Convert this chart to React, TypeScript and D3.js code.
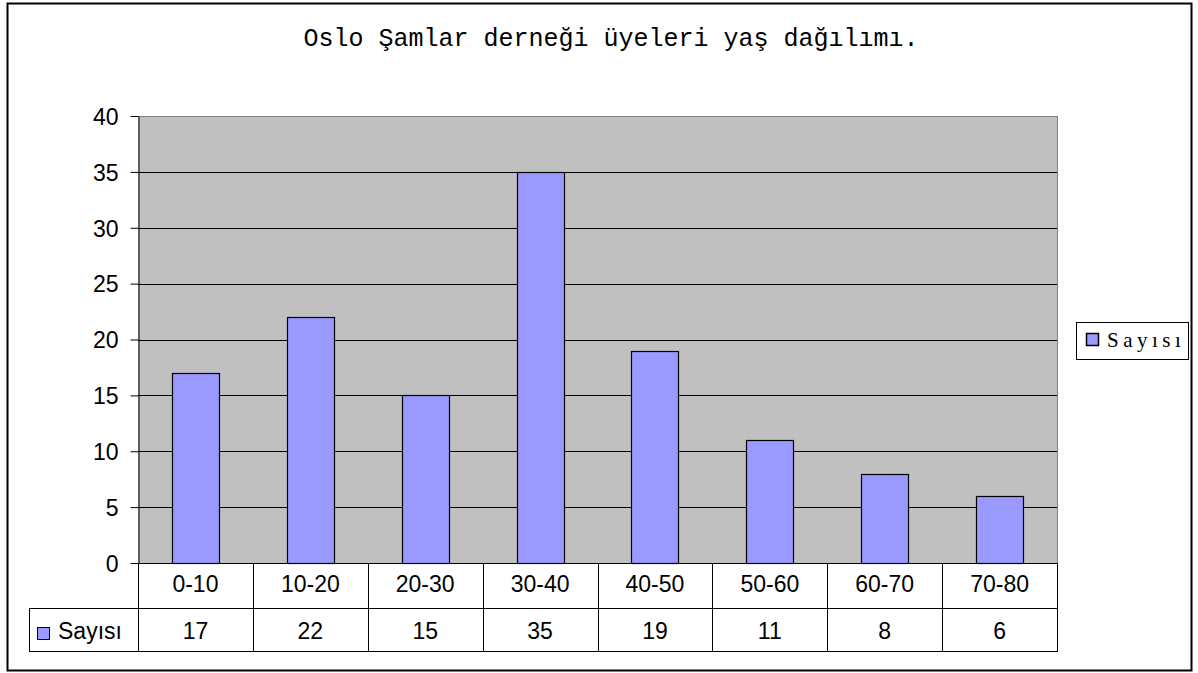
import * as d3 from "d3";
import React from "react";

const categories = ["0-10", "10-20", "20-30", "30-40", "40-50", "50-60", "60-70", "70-80"];
const counts = [17, 22, 15, 35, 19, 11, 8, 6];
const yTicks = [0, 5, 10, 15, 20, 25, 30, 35, 40];
const seriesName = "Sayısı";
const title = "Oslo Şamlar derneği üyeleri yaş dağılımı.";

const sans = "Liberation Sans, Arial, sans-serif";

function App() {
  const svgRef = React.useRef<SVGSVGElement>(null);

  React.useEffect(() => {
    const width = 1198;
    const height = 673;
    const plotLeft = 138;
    const plotRight = 1057;
    const plotTop = 116;
    const plotBottom = 563;
    const catRowH = 45;
    const valRowH = 43;
    const tableLeft = 29;
    const fs = 23;

    const svg = d3.select(svgRef.current);
    svg.selectAll("*").remove();
    svg.attr("width", width).attr("height", height);

    svg.append("rect").attr("width", width).attr("height", height).attr("fill", "#fff");
    svg
      .append("rect")
      .attr("x", 7.5)
      .attr("y", 3.5)
      .attr("width", 1184)
      .attr("height", 667)
      .attr("fill", "none")
      .attr("stroke", "#000")
      .attr("stroke-width", 2);

    const x = d3.scaleBand().domain(categories).range([plotLeft, plotRight]).paddingInner(0).paddingOuter(0);
    const y = d3.scaleLinear().domain([0, 40]).range([plotBottom, plotTop]);

    // plot area
    svg
      .append("rect")
      .attr("x", plotLeft)
      .attr("y", plotTop)
      .attr("width", plotRight - plotLeft)
      .attr("height", plotBottom - plotTop)
      .attr("fill", "#c0c0c0");

    svg
      .append("g")
      .selectAll("line")
      .data(yTicks.filter((t) => t > 0))
      .join("line")
      .attr("x1", plotLeft)
      .attr("x2", plotRight)
      .attr("y1", (d) => Math.round(y(d)) + 0.5)
      .attr("y2", (d) => Math.round(y(d)) + 0.5)
      .attr("stroke", (d) => (d === 40 ? "#808080" : "#000"))
      .attr("stroke-width", 1);

    // right border of plot
    svg
      .append("line")
      .attr("x1", plotRight + 0.5)
      .attr("x2", plotRight + 0.5)
      .attr("y1", plotTop)
      .attr("y2", plotBottom)
      .attr("stroke", "#808080");

    // bars
    const barW = 47;
    svg
      .append("g")
      .selectAll("rect")
      .data(counts)
      .join("rect")
      .attr("x", (_, i) => Math.round(x(categories[i])! + x.bandwidth() / 2 - barW / 2) + 0.5)
      .attr("y", (d) => Math.round(y(d)) + 0.5)
      .attr("width", barW)
      .attr("height", (d) => Math.round(plotBottom - y(d)))
      .attr("fill", "#9999ff")
      .attr("stroke", "#000")
      .attr("stroke-width", 1.2);

    // y axis
    const yAxis = d3.axisLeft(y).tickValues(yTicks).tickSize(8).tickSizeOuter(0);
    svg
      .append("g")
      .attr("transform", `translate(${plotLeft + 0.5},0)`)
      .call(yAxis)
      .call((g: any) => g.select(".domain").attr("stroke", "#000"))
      .call((g: any) =>
        g
          .selectAll("text")
          .attr("font-family", sans)
          .attr("font-size", fs)
          .attr("fill", "#000")
          .attr("x", -20)
          .attr("dy", "0.36em"),
      );

    // data table
    const table = svg.append("g");
    const lineAttr = (sel: any) => sel.attr("stroke", "#000").attr("stroke-width", 1);
    const tableBottom = plotBottom + catRowH + valRowH;
    table.append("line").attr("x1", plotLeft).attr("x2", plotRight + 1).attr("y1", plotBottom + 0.5).attr("y2", plotBottom + 0.5).call(lineAttr);
    table.append("line").attr("x1", tableLeft).attr("x2", plotRight + 1).attr("y1", plotBottom + catRowH + 0.5).attr("y2", plotBottom + catRowH + 0.5).call(lineAttr);
    table.append("line").attr("x1", tableLeft).attr("x2", plotRight + 1).attr("y1", tableBottom + 0.5).attr("y2", tableBottom + 0.5).call(lineAttr);
    table.append("line").attr("x1", tableLeft + 0.5).attr("x2", tableLeft + 0.5).attr("y1", plotBottom + catRowH).attr("y2", tableBottom).call(lineAttr);
    const bounds = [...categories.map((c) => x(c)!), plotRight];
    table
      .selectAll("line.v")
      .data(bounds)
      .join("line")
      .attr("class", "v")
      .attr("x1", (d) => Math.round(d) + 0.5)
      .attr("x2", (d) => Math.round(d) + 0.5)
      .attr("y1", plotBottom)
      .attr("y2", tableBottom)
      .call(lineAttr);

    table
      .selectAll("text.cat")
      .data(categories)
      .join("text")
      .attr("class", "cat")
      .attr("x", (d) => x(d)! + x.bandwidth() / 2)
      .attr("y", plotBottom + 29)
      .attr("text-anchor", "middle")
      .attr("font-family", sans)
      .attr("font-size", fs)
      .text((d) => d);

    table
      .selectAll("text.val")
      .data(counts)
      .join("text")
      .attr("class", "val")
      .attr("x", (_, i) => x(categories[i])! + x.bandwidth() / 2)
      .attr("y", plotBottom + catRowH + 31)
      .attr("text-anchor", "middle")
      .attr("font-family", sans)
      .attr("font-size", fs)
      .text((d) => String(d));

    table
      .append("rect")
      .attr("x", 37.5)
      .attr("y", 627.5)
      .attr("width", 12)
      .attr("height", 12)
      .attr("fill", "#9999ff")
      .attr("stroke", "#000");
    table
      .append("text")
      .attr("x", 58)
      .attr("y", plotBottom + catRowH + 31)
      .attr("font-family", sans)
      .attr("font-size", fs)
      .text(seriesName);

    // legend
    const legend = svg.append("g");
    legend
      .append("rect")
      .attr("x", 1076.5)
      .attr("y", 322.5)
      .attr("width", 112)
      .attr("height", 37)
      .attr("fill", "#fff")
      .attr("stroke", "#000");
    legend
      .append("rect")
      .attr("x", 1086.5)
      .attr("y", 333.5)
      .attr("width", 12)
      .attr("height", 12)
      .attr("fill", "#9999ff")
      .attr("stroke", "#000")
      .attr("stroke-width", 1.5);
    legend
      .append("text")
      .attr("x", 1107)
      .attr("y", 347)
      .attr("font-family", "Liberation Serif, serif")
      .attr("font-size", 21)
      .attr("letter-spacing", 4.5)
      .text(seriesName);

    // title
    svg
      .append("text")
      .attr("x", 611)
      .attr("y", 46)
      .attr("text-anchor", "middle")
      .attr("font-family", "Liberation Mono, Courier New, monospace")
      .attr("font-size", 25)
      .text(title);
  }, []);

  return (
    <div style={{ position: "absolute", left: 0, top: 0 }}>
      <svg ref={svgRef} style={{ display: "block" }} />
    </div>
  );
}

export default App;
